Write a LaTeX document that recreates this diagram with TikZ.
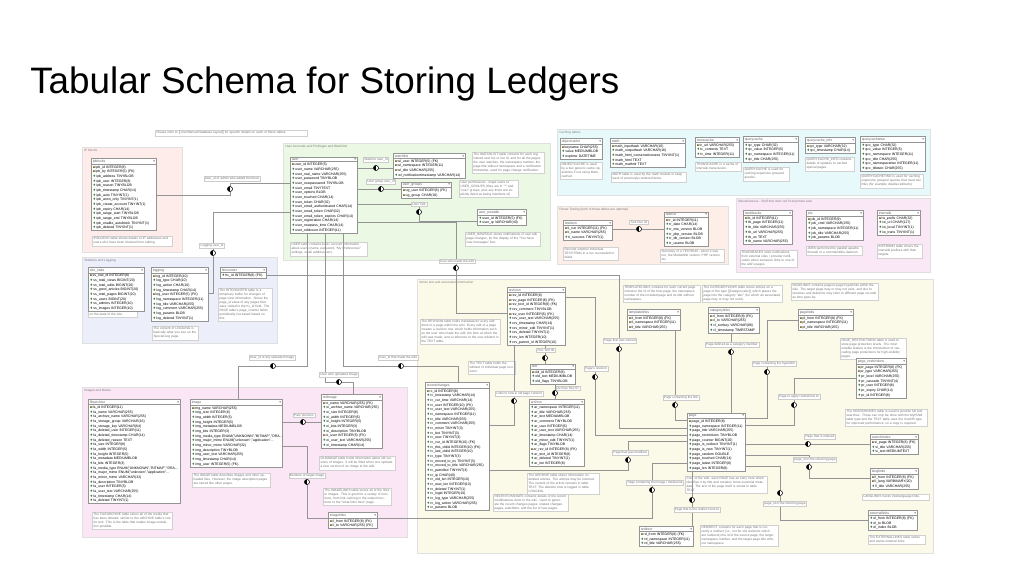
\documentclass[tikz,border=0pt]{standalone}
\usepackage{fontspec}
\setmainfont{Liberation Sans}
\newfontfamily\symf{DejaVu Sans}
\usetikzlibrary{shapes.multipart}
\definecolor{rgIP}{HTML}{FDECEA}
\definecolor{rgStat}{HTML}{ECEEFA}
\definecolor{rgUser}{HTML}{EAF8E4}
\definecolor{rgCache}{HTML}{E8F9FC}
\definecolor{rgTest}{HTML}{FDEEE8}
\definecolor{rgMisc}{HTML}{FBE8F6}
\definecolor{rgImg}{HTML}{FBE6F6}
\definecolor{rgArt}{HTML}{FBFAE9}
\definecolor{keyc}{HTML}{7A6A20}
\definecolor{icoc}{HTML}{3A7A3A}
\newcommand\tabfont{\fontsize{2.6}{3.5}\selectfont}
\newcommand\notefont{\fontsize{2.4}{2.95}\selectfont}
\newcommand\rk[1]{\mbox{{\symf\textcolor{keyc}{▪}}\,#1}}
\newcommand\rd[1]{\mbox{{\symf\textcolor{icoc}{♦}}\,#1}}
\newcommand\dbt[6]{\pgfmathsetlengthmacro\tbw{#4*0.75pt-2pt}%
  \node[dbtab,text width=\tbw] (#1) at (#2,#3) {#5\hfill{\symf\textcolor{black!55}{▾}}\nodepart{two}#6};}
\newcommand\nte[5]{\pgfmathsetlengthmacro\tbw{#4*0.75pt-2pt}%
  \node[note,text width=\tbw] (#1) at (#2,#3) {#5};}
\newcommand\rgn[7]{\path[fill=#6,draw=black!12,line width=0.3pt] (#2,#3) rectangle (#4,#5);
  \node[rlabel] (#1) at (#2,#3) {#7};}
\tikzset{
  dbtab/.style={rectangle split, rectangle split parts=2, draw=black!42, line width=0.7pt,
    fill=white, anchor=north west, align=left, inner xsep=1pt, inner ysep=0.6pt,
    font=\tabfont, text=black!62},
  note/.style={draw=black!18, line width=0.3pt, fill=white, anchor=north west, align=left,
    inner sep=1pt, font=\notefont, text=black!55},
  clabel/.style={draw=black!20, line width=0.3pt, fill=white, font=\notefont, text=black!55, inner sep=0.8pt},
  joint/.style={circle, draw=black, line width=0.4pt, fill=white, minimum size=3.8pt, inner sep=0pt,
    path picture={\fill[black] (path picture bounding box.north west) rectangle (path picture bounding box.south);}},
  conn/.style={draw=black!42, line width=0.4pt},
  rlabel/.style={font=\notefont, text=black!50, anchor=north west, inner sep=1.5pt},
}
\catcode`\_=12
\begin{document}
\begin{tikzpicture}[x=0.75pt,y=-0.75pt]
\useasboundingbox (0,0) rectangle (1024,576);
\node[anchor=base west, font=\fontsize{27.6}{32}\selectfont, inner sep=0pt] (title) at (30,93) {Tabular Schema for Storing Ledgers};

% ---------------- regions
\rgn{rIP}{82}{147}{182}{252}{rgIP}{IP blocks}
\rgn{rStat}{82}{257}{277}{343}{rgStat}{Statistics and Logging}
\rgn{rUser}{283}{143}{550}{260}{rgUser}{User Accounts and Privileges and Watchlist}
\rgn{rCache}{557}{129}{930}{195}{rgCache}{Caching tables}
\rgn{rTest}{557}{206}{728}{264}{rgTest}{Parser Testing (both of these tables are optional)}
\rgn{rMisc}{736}{198}{930}{272}{rgMisc}{Miscellaneous - Stuff that does not fit anywhere else}
\rgn{rImg}{82}{387}{407}{537}{rgImg}{Images and Media}
\rgn{rArt}{417}{279}{933}{553}{rgArt}{Article text and associated information}

\nte{topnote}{155}{130}{152}{Please refer to [[:mw:Manual:Database layout]] for specific details on each of these tables.}

% ---------------- notes
\nte{nipb}{92}{236}{80}{IPBLOCKS table shows details of IP addresses and users who have been blocked from editing.}
\nte{nss}{88}{304}{49}{SITE_STATS contains a single row with some aggregate info on the state of the site.}
\nte{nlog}{152}{326}{46}{The content of LOGGING is basically what you see on the Special:Log page.}
\nte{nhc}{218}{288}{54}{The HITCOUNTER table is a temporary buffer for changes of page view information. Stores the page_id value of any pages that were visited in the hc_id field. The PAGE table's page_counter fields periodically increased based on this.}
\nte{nuser}{290}{242}{77}{USER table contains basic account information about users (name, password, "My Preferences" settings, email address, etc).}
\nte{nwl}{472}{152}{72}{The WATCHLIST table contains for each registered user his or her id, and for all the pages the user watches, the namespace number, the page title without namespace and a notification timestamp, used for page change notification.}
\nte{nug}{459}{180}{59}{User permissions - maps users to USER_GROUPS (they are in "*" and "user" groups, plus any there are explicitly listed as being members of)}
\nte{nunt}{465}{232}{75}{USER_NEWTALK stores notifications of user talk page changes, for the display of the "You have new messages" box.}
\nte{noc}{560}{162}{42}{OBJECTCACHE is used by a few generic cache operations if not using Memcached.}
\nte{nmath}{611}{172}{75}{MATH table is used by the math module to keep track of previously-rendered items.}
\nte{ntc}{695}{162}{46}{TRANSCACHE is a cache of interwiki transclusion.}
\nte{nqc}{743}{167}{46}{QUERYCACHE is used for caching expensive grouped queries.}
\nte{nqci}{805}{157}{49}{QUERYCACHE_INFO contains details of updates to cached special pages.}
\nte{nqc2}{860}{174}{63}{QUERYCACHETWO is used for caching expensive grouped queries that need two links (for example double-redirects)}
\nte{nti}{563}{247}{55}{Records whether individual TESTITEMs in a run succeeded or failed.}
\nte{ntr}{660}{249}{64}{Summary of a TESTRUN - when it was run, the MediaWiki version, PHP version, etc.}
\nte{ntb}{740}{250}{57}{TRACKBACKS store notifications from external sites / provider notification when someone links to one of the wiki's pages.}
\nte{njob}{806}{246}{56}{JOBS performed by parallel apache threads or a commandline daemon.}
\nte{niw}{877}{244}{45}{INTERWIKI table shows the interwiki prefixes with their targets.}
\nte{nrev}{420}{319}{80}{The REVISION table holds metadata for every edit done to a page within the wiki. Every edit of a page creates a revision row, which holds information such as the user who made the edit, the time at which the edit was made, and a reference to the new wikitext in the TEXT table.}
\nte{ntext}{468}{361}{47}{The TEXT table holds the wikitext of individual page revisions.}
\nte{nrc}{493}{494}{75}{RECENTCHANGES contains details of the recent modifications done to the wiki. Used to generate the recent changes pages, related changes pages, watchlists, and the list of new pages.}
\nte{nar}{527}{473}{72}{The ARCHIVE table stores information on deleted articles. The articles may be restored. The content of the article remains in table TEXT. The deletion time is logged in table LOGGING.}
\nte{ntl}{623}{285}{77}{TEMPLATELINKS contains for each current page inclusion the id of the host page, the namespace number of the included page and its title without namespace.}
\nte{ncl}{702}{285}{80}{The CATEGORYLINKS table stores entries on a page of the type [[Category:abc]], which places the page into the category "abc" (for which an associated page may or may not exist).}
\nte{npl}{791}{283}{87}{PAGELINKS contains page-to-page hyperlinks within the wiki. The target page may or may not exist, and due to renames and deletions may refer to different page records as time goes by.}
\nte{npr}{840}{338}{66}{PAGE_RESTRICTIONS table is used to store page protection levels. The most notable feature is the introduction of cascading page protections for high-visibility pages.}
\nte{nsi}{845}{409}{82}{The SEARCHINDEX table is used to provide full text searches. Those can only be done with the MyISAM table type and the TEXT table uses the InnoDB type for improved performance, so a copy is required.}
\nte{nll}{862}{494}{67}{LANGLINKS tracks interlanguage links.}
\nte{nel}{868}{535}{57}{The EXTERNALLINKS table stores and tracks external links.}
\nte{npage}{685}{476}{82}{Core of the wiki: each PAGE has an entry here which identifies it by title and contains some essential metadata. The text of the page itself is stored in table TEXT.}
\nte{nrd}{700}{525}{78}{REDIRECT contains for each page that is currently a redirect (i.e., not for old revisions which are redirects) the id of the source page, the target namespace number, and the target page title without namespace.}
\nte{nfa}{92}{512}{80}{The FILEARCHIVE table stores all of the media that has been deleted, similar to the ARCHIVE table's role for text. This is the table that makes image undeletion possible.}
\nte{nimg}{192}{473}{78}{The IMAGE table describes images and other uploaded files. However, the image description pages are stored like other pages.}
\nte{noi}{319}{456}{76}{OLDIMAGE table holds information about old versions of images. It will be filled when one uploads a new version of an image to the wiki.}
\nte{nil}{323}{488}{68}{The IMAGELINKS table stores all of the links to images. This is good for a variety of functions, from link caching in the output functions to the "what links here" page.}

% ---------------- tables
\dbt{ipblocks}{91}{158}{65}{ipblocks}{\rk{ipb_id INTEGER(8)}\\\rk{ipb_by INTEGER(5) (FK)}\\\rd{ipb_address TINYBLOB}\\\rd{ipb_user INTEGER(8)}\\\rd{ipb_reason TINYBLOB}\\\rd{ipb_timestamp CHAR(14)}\\\rd{ipb_auto TINYINT(1)}\\\rd{ipb_anon_only TINYINT(1)}\\\rd{ipb_create_account TINYINT(1)}\\\rd{ipb_expiry CHAR(14)}\\\rd{ipb_range_start TINYBLOB}\\\rd{ipb_range_end TINYBLOB}\\\rd{ipb_enable_autoblock TINYINT(1)}\\\rd{ipb_deleted TINYINT(1)}}

\dbt{sitestats}{88}{267}{56}{site_stats}{\rk{ss_row_id INTEGER(8)}\\\rd{ss_total_views BIGINT(20)}\\\rd{ss_total_edits BIGINT(20)}\\\rd{ss_good_articles BIGINT(20)}\\\rd{ss_total_pages BIGINT(20)}\\\rd{ss_users BIGINT(20)}\\\rd{ss_admins INTEGER(10)}\\\rd{ss_images INTEGER(10)}}
\dbt{logging}{151}{267}{57}{logging}{\rk{log_id INTEGER(10)}\\\rd{log_type CHAR(10)}\\\rd{log_action CHAR(10)}\\\rd{log_timestamp CHAR(14)}\\\rk{log_user INTEGER(5) (FK)}\\\rd{log_namespace INTEGER(11)}\\\rd{log_title VARCHAR(255)}\\\rd{log_comment VARCHAR(255)}\\\rd{log_params BLOB}\\\rd{log_deleted TINYINT(1)}}
\dbt{hitcounter}{220}{267}{46}{hitcounter}{\rd{hc_id INTEGER(8) (FK)}}

\dbt{user}{290}{157}{67}{user}{\rk{user_id INTEGER(5)}\\\rd{user_name VARCHAR(255)}\\\rd{user_real_name VARCHAR(255)}\\\rd{user_password TINYBLOB}\\\rd{user_newpassword TINYBLOB}\\\rd{user_email TINYTEXT}\\\rd{user_options BLOB}\\\rd{user_touched CHAR(14)}\\\rd{user_token CHAR(32)}\\\rd{user_email_authenticated CHAR(14)}\\\rd{user_email_token CHAR(32)}\\\rd{user_email_token_expires CHAR(14)}\\\rd{user_registration CHAR(14)}\\\rd{user_newpass_time CHAR(14)}\\\rd{user_editcount INTEGER(11)}}
\dbt{watchlist}{393}{153}{72}{watchlist}{\rk{wl_user INTEGER(5) (FK)}\\\rk{wl_namespace INTEGER(11)}\\\rk{wl_title VARCHAR(255)}\\\rd{wl_notificationtimestamp VARCHAR(14)}}
\dbt{usergroups}{401}{182}{50}{user_groups}{\rk{ug_user INTEGER(5) (FK)}\\\rk{ug_group CHAR(16)}}
\dbt{usernewtalk}{477}{209}{49}{user_newtalk}{\rd{user_id INTEGER(5) (FK)}\\\rd{user_ip VARCHAR(40)}}

\dbt{objectcache}{560}{138}{42}{objectcache}{\rk{keyname CHAR(255)}\\\rd{value MEDIUMBLOB}\\\rd{exptime DATETIME}}
\dbt{math}{610}{138}{75}{math}{\rk{math_inputhash VARCHAR(16)}\\\rd{math_outputhash VARCHAR(16)}\\\rd{math_html_conservativeness TINYINT(1)}\\\rd{math_html TEXT}\\\rd{math_mathml TEXT}}
\dbt{transcache}{695}{137}{44}{transcache}{\rk{tc_url VARCHAR(255)}\\\rd{tc_contents TEXT}\\\rd{tc_time INTEGER(11)}}
\dbt{querycache}{743}{136}{55}{querycache}{\rd{qc_type CHAR(32)}\\\rd{qc_value INTEGER(5)}\\\rd{qc_namespace INTEGER(11)}\\\rd{qc_title CHAR(255)}}
\dbt{querycacheinfo}{805}{137}{50}{querycache_info}{\rk{qci_type VARCHAR(32)}\\\rd{qci_timestamp CHAR(14)}}
\dbt{querycachetwo}{860}{136}{65}{querycachetwo}{\rd{qcc_type CHAR(32)}\\\rd{qcc_value INTEGER(5)}\\\rd{qcc_namespace INTEGER(11)}\\\rd{qcc_title CHAR(255)}\\\rd{qcc_namespacetwo INTEGER(11)}\\\rd{qcc_titletwo CHAR(255)}}

\dbt{testitem}{563}{220}{49}{testitem}{\rk{ti_run INTEGER(11) (FK)}\\\rk{ti_name VARCHAR(255)}\\\rd{ti_success TINYINT(1)}}
\dbt{testrun}{664}{212}{44}{testrun}{\rk{tr_id INTEGER(11)}\\\rd{tr_date CHAR(14)}\\\rd{tr_mw_version BLOB}\\\rd{tr_php_version BLOB}\\\rd{tr_db_version BLOB}\\\rd{tr_uname BLOB}}

\dbt{trackbacks}{743}{210}{49}{trackbacks}{\rk{tb_id INTEGER(11)}\\\rd{tb_page INTEGER(11)}\\\rd{tb_title VARCHAR(255)}\\\rd{tb_url VARCHAR(255)}\\\rd{tb_ex TEXT}\\\rd{tb_name VARCHAR(255)}}
\dbt{job}{806}{210}{57}{job}{\rk{job_id INTEGER(9)}\\\rd{job_cmd VARCHAR(255)}\\\rd{job_namespace INTEGER(11)}\\\rd{job_title VARCHAR(255)}\\\rd{job_params BLOB}}
\dbt{interwiki}{877}{210}{43}{interwiki}{\rk{iw_prefix CHAR(32)}\\\rd{iw_url CHAR(127)}\\\rd{iw_local TINYINT(1)}\\\rd{iw_trans TINYINT(1)}}

\dbt{revision}{507}{287}{58}{revision}{\rk{rev_id INTEGER(8)}\\\rk{rev_page INTEGER(8) (FK)}\\\rk{rev_text_id INTEGER(8) (FK)}\\\rd{rev_comment TINYBLOB}\\\rk{rev_user INTEGER(5) (FK)}\\\rd{rev_user_text VARCHAR(255)}\\\rd{rev_timestamp CHAR(14)}\\\rd{rev_minor_edit TINYINT(1)}\\\rd{rev_deleted TINYINT(1)}\\\rd{rev_len INTEGER(10)}\\\rd{rev_parent_id INTEGER(10)}}
\dbt{text}{530}{364}{45}{text}{\rk{old_id INTEGER(8)}\\\rd{old_text MEDIUMBLOB}\\\rd{old_flags TINYBLOB}}
\dbt{recentchanges}{425}{382}{64}{recentchanges}{\rk{rc_id INTEGER(8)}\\\rd{rc_timestamp VARCHAR(14)}\\\rd{rc_cur_time VARCHAR(14)}\\\rd{rc_user INTEGER(10) (FK)}\\\rd{rc_user_text VARCHAR(255)}\\\rd{rc_namespace INTEGER(11)}\\\rd{rc_title VARCHAR(255)}\\\rd{rc_comment VARCHAR(255)}\\\rd{rc_minor TINYINT(3)}\\\rd{rc_bot TINYINT(3)}\\\rd{rc_new TINYINT(3)}\\\rd{rc_cur_id INTEGER(10) (FK)}\\\rd{rc_this_oldid INTEGER(10) (FK)}\\\rd{rc_last_oldid INTEGER(10)}\\\rd{rc_type TINYINT(3)}\\\rd{rc_moved_to_ns TINYINT(3)}\\\rd{rc_moved_to_title VARCHAR(255)}\\\rd{rc_patrolled TINYINT(3)}\\\rd{rc_ip CHAR(40)}\\\rd{rc_old_len INTEGER(10)}\\\rd{rc_new_len INTEGER(10)}\\\rd{rc_deleted TINYINT(1)}\\\rd{rc_logid INTEGER(10)}\\\rd{rc_log_type VARCHAR(255)}\\\rd{rc_log_action VARCHAR(255)}\\\rd{rc_params BLOB}}
\dbt{archive}{529}{399}{55}{archive}{\rd{ar_namespace INTEGER(11)}\\\rd{ar_title VARCHAR(255)}\\\rd{ar_text MEDIUMBLOB}\\\rd{ar_comment TINYBLOB}\\\rd{ar_user INTEGER(5)}\\\rd{ar_user_text VARCHAR(255)}\\\rd{ar_timestamp CHAR(14)}\\\rd{ar_minor_edit TINYINT(1)}\\\rd{ar_flags TINYBLOB}\\\rk{ar_rev_id INTEGER(8) (FK)}\\\rd{ar_text_id INTEGER(8)}\\\rd{ar_deleted TINYINT(1)}\\\rd{ar_len INTEGER(8)}}
\dbt{templatelinks}{627}{309}{53}{templatelinks}{\rk{tl_from INTEGER(8) (FK)}\\\rk{tl_namespace INTEGER(11)}\\\rk{tl_title VARCHAR(255)}}
\dbt{categorylinks}{708}{307}{51}{categorylinks}{\rk{cl_from INTEGER(8) (FK)}\\\rk{cl_to VARCHAR(255)}\\\rd{cl_sortkey VARCHAR(86)}\\\rd{cl_timestamp TIMESTAMP}}
\dbt{pagelinks}{798}{309}{55}{pagelinks}{\rk{pl_from INTEGER(8) (FK)}\\\rk{pl_namespace INTEGER(11)}\\\rk{pl_title VARCHAR(255)}}
\dbt{page}{687}{413}{58}{page}{\rk{page_id INTEGER(8)}\\\rd{page_namespace INTEGER(11)}\\\rd{page_title VARCHAR(255)}\\\rd{page_restrictions TINYBLOB}\\\rd{page_counter BIGINT(20)}\\\rd{page_is_redirect TINYINT(1)}\\\rd{page_is_new TINYINT(1)}\\\rd{page_random DOUBLE}\\\rd{page_touched CHAR(14)}\\\rd{page_latest INTEGER(8)}\\\rd{page_len INTEGER(8)}}
\dbt{pagerestrictions}{856}{358}{50}{page_restrictions}{\rk{pr_page INTEGER(8) (FK)}\\\rk{pr_type VARCHAR(255)}\\\rd{pr_level VARCHAR(255)}\\\rd{pr_cascade TINYINT(4)}\\\rd{pr_user INTEGER(8)}\\\rd{pr_expiry CHAR(14)}\\\rd{pr_id INTEGER(8)}}
\dbt{searchindex}{870}{434}{48}{searchindex}{\rk{si_page INTEGER(8) (FK)}\\\rd{si_title VARCHAR(255)}\\\rd{si_text MEDIUMTEXT}}
\dbt{langlinks}{870}{468}{48}{langlinks}{\rk{ll_from INTEGER(8) (FK)}\\\rk{ll_lang VARBINARY(20)}\\\rd{ll_title VARCHAR(255)}}
\dbt{externallinks}{868}{510}{49}{externallinks}{\rd{el_from INTEGER(8) (FK)}\\\rd{el_to BLOB}\\\rd{el_index BLOB}}
\dbt{redirect}{639}{526}{54}{redirect}{\rk{rd_from INTEGER(8) (FK)}\\\rd{rd_namespace INTEGER(11)}\\\rd{rd_title VARCHAR(255)}}

\dbt{filearchive}{88}{399}{92}{filearchive}{\rk{fa_id INTEGER(11)}\\\rd{fa_name VARCHAR(255)}\\\rd{fa_archive_name VARCHAR(255)}\\\rd{fa_storage_group VARCHAR(16)}\\\rd{fa_storage_key VARCHAR(64)}\\\rd{fa_deleted_user INTEGER(11)}\\\rd{fa_deleted_timestamp CHAR(14)}\\\rd{fa_deleted_reason TEXT}\\\rd{fa_size INTEGER(8)}\\\rd{fa_width INTEGER(5)}\\\rd{fa_height INTEGER(5)}\\\rd{fa_metadata MEDIUMBLOB}\\\rd{fa_bits INTEGER(3)}\\\rd{fa_media_type ENUM("UNKNOWN","BITMAP","DRA...}\\\rd{fa_major_mime ENUM("unknown","application"...}\\\rd{fa_minor_mime VARCHAR(32)}\\\rd{fa_description TINYBLOB}\\\rd{fa_user INTEGER(5)}\\\rd{fa_user_text VARCHAR(255)}\\\rd{fa_timestamp CHAR(14)}\\\rd{fa_deleted TINYINT(1)}}
\dbt{image}{190}{399}{92}{image}{\rk{img_name VARCHAR(255)}\\\rd{img_size INTEGER(8)}\\\rd{img_width INTEGER(5)}\\\rd{img_height INTEGER(5)}\\\rd{img_metadata MEDIUMBLOB}\\\rd{img_bits INTEGER(3)}\\\rd{img_media_type ENUM("UNKNOWN","BITMAP","DRA...}\\\rd{img_major_mime ENUM("unknown","application"...}\\\rd{img_minor_mime VARCHAR(32)}\\\rd{img_description TINYBLOB}\\\rd{img_user_text VARCHAR(255)}\\\rd{img_timestamp CHAR(14)}\\\rd{img_user INTEGER(5) (FK)}}
\dbt{oldimage}{321}{394}{61}{oldimage}{\rk{oi_name VARCHAR(255) (FK)}\\\rd{oi_archive_name VARCHAR(255)}\\\rd{oi_size INTEGER(8)}\\\rd{oi_width INTEGER(5)}\\\rd{oi_height INTEGER(5)}\\\rd{oi_bits INTEGER(3)}\\\rd{oi_description TINYBLOB}\\\rk{oi_user INTEGER(5) (FK)}\\\rd{oi_user_text VARCHAR(255)}\\\rd{oi_timestamp CHAR(14)}}
\dbt{imagelinks}{328}{512}{49}{imagelinks}{\rk{il_from INTEGER(8) (FK)}\\\rk{il_to VARCHAR(255) (FK)}}

% ---------------- joints
\node[joint] (j1) at (230,189) {};
\node[joint] (j2) at (213,253) {};
\node[joint] (j3) at (376,168) {};
\node[joint] (j4) at (381,189) {};
\node[joint] (j5) at (419,212) {};
\node[joint] (j6) at (456,268) {};
\node[joint] (j7) at (273,366) {};
\node[joint] (j8) at (339,382) {};
\node[joint] (j9) at (401,366) {};
\node[joint] (j10) at (639,229) {};
\node[joint] (j11) at (619,349) {};
\node[joint] (j12) at (545,358) {};
\node[joint] (j13) at (595,377) {};
\node[joint] (j14) at (555,393) {};
\node[joint] (j15) at (514,401) {};
\node[joint] (j16) at (628,460) {};
\node[joint] (j17) at (652,490) {};
\node[joint] (j18) at (692,500) {};
\node[joint] (j19) at (731,352) {};
\node[joint] (j20) at (767,372) {};
\node[joint] (j21) at (675,405) {};
\node[joint] (j22) at (794,405) {};
\node[joint] (j23) at (808,444) {};
\node[joint] (j24) at (809,467) {};
\node[joint] (j25) at (780,493) {};
\node[joint] (j26) at (303,422) {};
\node[joint] (j27) at (307,482) {};

% ---------------- connectors
\draw[conn] (ipblocks.east |- 0,195) -| (j1);
\draw[conn] (j1) |- (user.west |- 0,183);
\draw[conn] (user.west |- 0,212) -| (j2);
\draw[conn] (j2) |- (logging.east |- 0,293);
\draw[conn] (user.east |- 0,168) -- (j3) -- (watchlist.west |- 0,168);
\draw[conn] (user.east |- 0,189) -- (j4) -- (usergroups.west |- 0,189);
\draw[conn] (user.east |- 0,204) -| (j5);
\draw[conn] (j5) |- (usernewtalk.west |- 0,221);
\draw[conn] (user.east |- 0,222) -| (j6);
\draw[conn] (j6) |- (revision.west |- 0,313);
\draw[conn] (user.south -| 307,0) |- (j7);
\draw[conn] (j7) -| (image.north -| 238,0);
\draw[conn] (user.south -| 325,0) |- (j8);
\draw[conn] (j8) -| (oldimage.north -| 353,0);
\draw[conn] (user.south -| 343,0) |- (j9);
\draw[conn] (j9) -| (recentchanges.north -| 458,0);
\draw[conn] (testitem.east |- 0,229) -- (j10) -- (testrun.west |- 0,229);
\draw[conn] (hitcounter.east |- 0,275) -| (j11);
\draw[conn] (j11) |- (page.west |- 0,428);
\draw[conn] (revision.south -| 545,0) -- (j12) -- (text.north -| 545,0);
\draw[conn] (revision.east |- 0,297) -| (j13);
\draw[conn] (j13) |- (page.west |- 0,435);
\draw[conn] (text.south -| 555,0) -- (j14) -- (archive.north -| 555,0);
\draw[conn] (revision.south -| 514,0) -- (j15);
\draw[conn] (j15) |- (recentchanges.east |- 0,425);
\draw[conn] (recentchanges.east |- 0,470) -| (j16);
\draw[conn] (j16) |- (page.west |- 0,441);
\draw[conn] (imagelinks.east |- 0,518) -| (j17);
\draw[conn] (j17) |- (page.west |- 0,463);
\draw[conn] (page.south -| 692,0) -- (j18) -- (redirect.north -| 692,0);
\draw[conn] (categorylinks.south -| 731,0) -- (j19) -- (page.north -| 731,0);
\draw[conn] (pagelinks.west |- 0,320) -| (j20);
\draw[conn] (j20) |- (page.east |- 0,418);
\draw[conn] (templatelinks.south -| 675,0) -- (j21);
\draw[conn] (j21) |- (page.west |- 0,420);
\draw[conn] (pagerestrictions.west |- 0,378) -| (j22);
\draw[conn] (j22) |- (page.east |- 0,425);
\draw[conn] (searchindex.west |- 0,444) -- (j23) -- (page.east |- 0,444);
\draw[conn] (langlinks.west |- 0,478) -| (j24);
\draw[conn] (j24) |- (page.east |- 0,455);
\draw[conn] (externallinks.west |- 0,520) -| (j25);
\draw[conn] (j25) |- (page.east |- 0,466);
\draw[conn] (image.east |- 0,422) -- (j26) -- (oldimage.west |- 0,422);
\draw[conn] (image.east |- 0,446) -| (j27);
\draw[conn] (j27) |- (imagelinks.west |- 0,518);

% ---------------- connector labels
\node[clabel] (l1) at (232,179) {User_id of admin who added the block};
\node[clabel] (l2) at (212,246) {Logging user_id};
\node[clabel] (l3) at (376,160) {Watcher user_id};
\node[clabel] (l4) at (381,182) {User group user_id};
\node[clabel] (l5) at (419,204) {User Talk};
\node[clabel] (l6) at (457,261) {User who made the edit};
\node[clabel] (l7) at (272,358) {User_id of any uploaded image};
\node[clabel] (l8) at (339,375) {User who uploaded image};
\node[clabel] (l9) at (398,358) {User_id that made the edit};
\node[clabel] (l10) at (639,222) {Test Run ID};
\node[clabel] (l11) at (620,341) {Page that was viewed};
\node[clabel] (l12) at (546,350) {Rev Text ID};
\node[clabel] (l13) at (596,369) {Page's revision};
\node[clabel] (l14) at (568,388) {Archive Rev ID};
\node[clabel] (l15) at (519,394) {Links to new \& old page content};
\node[clabel] (l16) at (630,453) {Page that was modified};
\node[clabel] (l17) at (655,483) {Page containing the image / media link};
\node[clabel] (l18) at (697,510) {Page that is the redirect source};
\node[clabel] (l19) at (732,345) {Page defined as a category member};
\node[clabel] (l20) at (774,364) {Page containing the hyperlink};
\node[clabel] (l21) at (681,398) {Page containing the link};
\node[clabel] (l22) at (799,397) {Page to apply restrictions to};
\node[clabel] (l23) at (820,437) {Page that is indexed};
\node[clabel] (l24) at (815,460) {page_id of the referring page};
\node[clabel] (l25) at (785,504) {page_id of the referring page};
\node[clabel] (l26) at (304,415) {Past Versions};
\node[clabel] (l27) at (307,476) {filename of target image};
\end{tikzpicture}
\end{document}
